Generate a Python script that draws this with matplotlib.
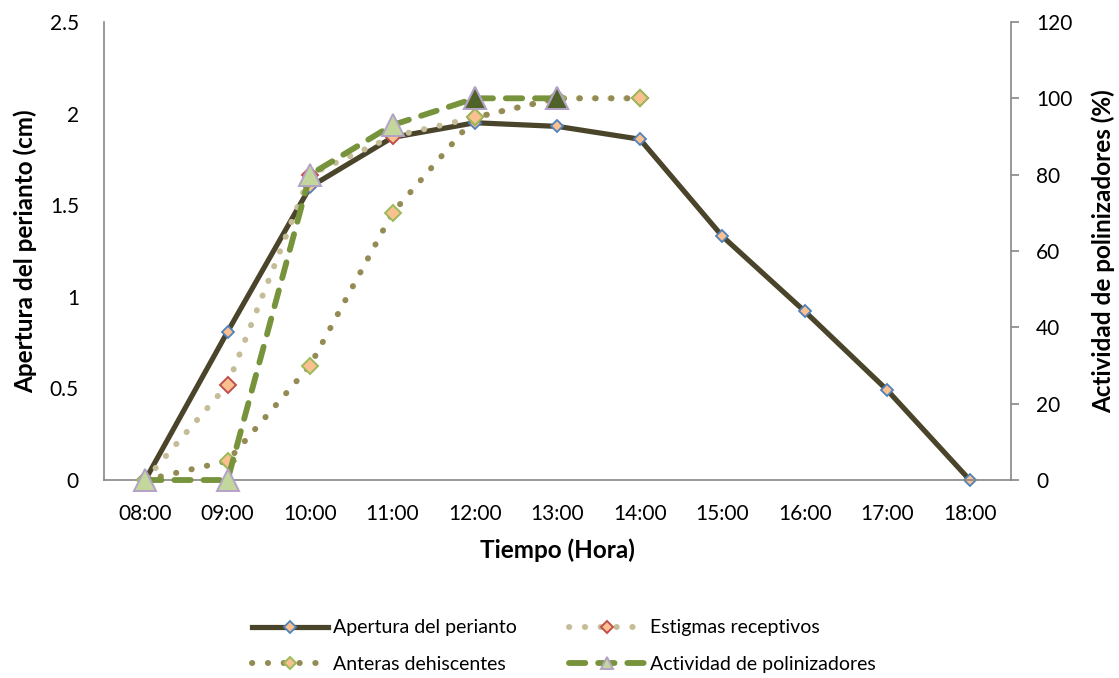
import numpy as np
import matplotlib
matplotlib.use("Agg")
import matplotlib.pyplot as plt
from matplotlib.legend_handler import HandlerLine2D

plt.rcParams['font.family'] = ['Lato', 'DejaVu Sans']

horas = ["08:00", "09:00", "10:00", "11:00", "12:00", "13:00",
         "14:00", "15:00", "16:00", "17:00", "18:00"]
apertura = [0, 0.81, 1.60, 1.87, 1.95, 1.93, 1.86, 1.33, 0.92, 0.49, 0]
estigmas = [0, 25, 80, 90, 95, 100, 100]
anteras = [0, 5, 30, 70, 95, 100, 100]
actividad = [0, 0, 80, 93, 100, 100]
actividad_oscuro = [False, False, False, False, True, True]

x = np.arange(len(horas))
gris = '#868686'
relleno = '#FAC090'
punteado = (0, (0.05, 2.6))

fig = plt.figure(figsize=(11.19, 6.78), dpi=100)
ax1 = fig.add_axes([0.0929, 0.292, 0.8106, 0.6756])
ax2 = ax1.twinx()

l1, = ax1.plot(x, apertura, color='#4A452A', lw=3.75, marker='D', ms=6.5,
               mfc=relleno, mec='#4F81BD', mew=1.3, clip_on=False,
               label='Apertura del perianto')

l2, = ax2.plot(x[:len(estigmas)], estigmas, color='#C4BD97', lw=4.3,
               linestyle=punteado, dash_capstyle='round',
               marker='D', ms=8.5, mfc=relleno, mec='#C0504D', mew=1.4,
               clip_on=False, label='Estigmas receptivos')
l3, = ax2.plot(x[:len(anteras)], anteras, color='#948A54', lw=4.3,
               linestyle=punteado, dash_capstyle='round',
               marker='D', ms=8.5, mfc=relleno, mec='#9BBB59', mew=1.4,
               clip_on=False, label='Anteras dehiscentes')
l4, = ax2.plot(x[:len(actividad)], actividad, color='#77933C', lw=4.2,
               linestyle=(0, (2.8, 2.2)), dash_capstyle='round',
               marker='^', ms=16, mfc='#C3D69B', mec='#B3A2C7', mew=1.4,
               clip_on=False, label='Actividad de polinizadores')
xa = x[:len(actividad)][actividad_oscuro]
ya = np.array(actividad)[actividad_oscuro]
ax2.plot(xa, ya, linestyle='none', marker='^', ms=16, mfc='#4F6228',
         mec='#B3A2C7', mew=1.4, clip_on=False)

ax1.set_xlim(-0.5, len(horas) - 0.5)
ax1.set_ylim(0, 2.5)
ax2.set_ylim(0, 120)
ax1.set_yticks(np.arange(0, 2.51, 0.5))
ax1.set_yticklabels(['0', '0.5', '1', '1.5', '2', '2.5'])
ax2.set_yticks(np.arange(0, 121, 20))
ax1.set_xticks(x)
ax1.set_xticklabels(horas)

for ax in (ax1, ax2):
    ax.spines['top'].set_visible(False)
    for s in ('left', 'right', 'bottom'):
        ax.spines[s].set_color(gris)
        ax.spines[s].set_linewidth(1.2)
ax1.spines['right'].set_visible(False)
ax2.spines['left'].set_visible(False)
ax2.spines['bottom'].set_visible(False)

ax1.tick_params(axis='y', length=0, pad=18, labelsize=15)
ax1.tick_params(axis='x', length=0, pad=17, labelsize=15)
ax2.tick_params(axis='y', length=6, width=1.2, color=gris, direction='out',
                pad=12, labelsize=15)

ax1.set_xlabel('Tiempo (Hora)', fontsize=17.5, fontweight='bold')
ax1.set_ylabel('Apertura del perianto (cm)', fontsize=17.5,
               fontweight='bold')
ax2.set_ylabel('Actividad de polinizadores (%)', fontsize=17.5,
               fontweight='bold')
ax1.xaxis.set_label_coords(0.4994, -0.128)
ax1.yaxis.set_label_coords(-0.0739, 0.5)
ax2.yaxis.set_label_coords(1.0893, 0.5)


def marcador_chico(linea, orig):
    linea.update_from(orig)
    linea.set_markersize(9 if orig.get_marker() == '^' else 6)


fig.legend(handles=[l1, l3, l2, l4], ncol=2, loc='center',
           bbox_to_anchor=(0.504, 0.047), frameon=False, fontsize=14,
           numpoints=1, handlelength=3.9, handletextpad=0.25,
           columnspacing=2.7, labelspacing=1.0,
           handler_map={l: HandlerLine2D(update_func=marcador_chico)
                        for l in (l1, l2, l3, l4)})

fig.savefig('out.png', dpi=100)
